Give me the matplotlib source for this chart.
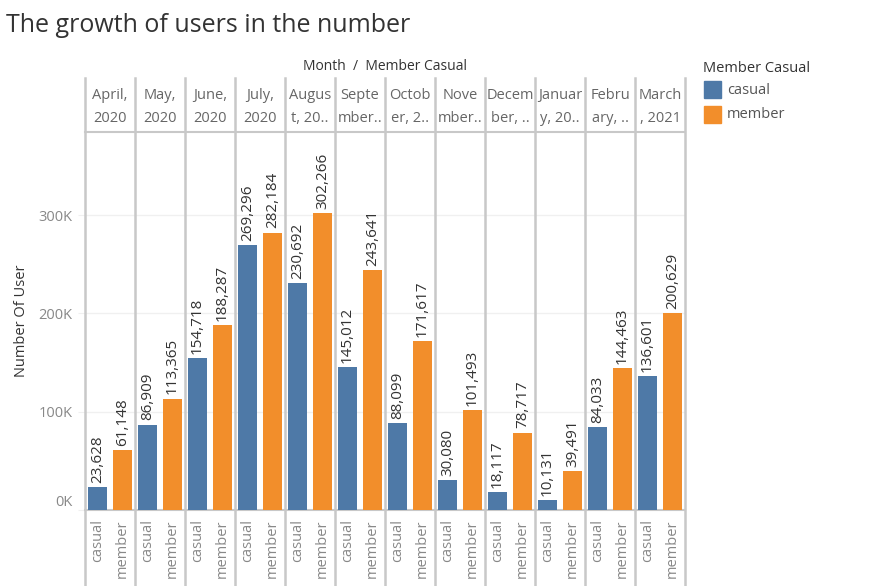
import matplotlib
matplotlib.use("Agg")
import matplotlib.pyplot as plt
import matplotlib.transforms as mtransforms
from matplotlib.lines import Line2D
from matplotlib.patches import Rectangle
import numpy as np

months = ["April,\n2020", "May,\n2020", "June,\n2020", "July,\n2020",
          "Augus\nt, 20..", "Septe\nmber..", "Octob\ner, 2..", "Nove\nmber..",
          "Decem\nber, ..", "Januar\ny, 20..", "Febru\nary, ..", "March\n, 2021"]
casual = [23628, 86909, 154718, 269296, 230692, 145012,
          88099, 30080, 18117, 10131, 84033, 136601]
member = [61148, 113365, 188287, 282184, 302266, 243641,
          171617, 101493, 78717, 39491, 144463, 200629]
groups = ["casual", "member"]
colors = {"casual": "#4e79a7", "member": "#f28e2b"}
yticks = [0, 100000, 200000, 300000]
ytick_labels = ["0K", "100K", "200K", "300K"]

plt.rcParams["font.family"] = ["Open Sans", "DejaVu Sans"]

W, H = 875, 586
fig = plt.figure(figsize=(W / 100, H / 100), dpi=100)


def fx(px):
    return px / W


def fy(py):
    return 1 - py / H


left, right, top, base = 85, 685, 132, 510
ax = fig.add_axes([fx(left), fy(base), fx(right - left), (base - top) / H])

n = len(months)
xc = np.arange(n) * 2
ax.bar(xc, casual, width=0.78, color=colors["casual"], zorder=3)
ax.bar(xc + 1, member, width=0.78, color=colors["member"], zorder=3)

# value labels above each bar
for i in range(n):
    for j, v in enumerate((casual[i], member[i])):
        ax.annotate(f"{v:,}", (xc[i] + j, v), xytext=(0, 3),
                    textcoords="offset points", rotation=90,
                    ha="center", va="bottom", fontsize=11, color="#333333")

ax.set_xlim(-0.5, 2 * n - 0.5)
ax.set_ylim(0, 384500)
ax.set_yticks(yticks)
ax.set_yticklabels(ytick_labels)
ax.tick_params(axis="y", length=5, color="#f0f0f0", labelsize=10.5,
               labelcolor="#888888", pad=4)
ax.yaxis.get_major_ticks()[0].label1.set_verticalalignment("bottom")
ax.set_xticks([])
ax.grid(axis="y", color="#f0f0f0", linewidth=1, zorder=0)
for s in ("left", "right"):
    ax.spines[s].set_visible(False)
for s in ("bottom", "top"):
    ax.spines[s].set_color("#c8c8c8")
    ax.spines[s].set_linewidth(1.5)
ax.set_ylabel("Number Of User", fontsize=10.5, color="#333333", labelpad=7)

# column dividers through header, plot and bottom labels
blend = mtransforms.blended_transform_factory(ax.transData, fig.transFigure)
for k in range(n + 1):
    x = -0.5 + 2 * k
    fig.add_artist(Line2D([x, x], [fy(78), 0], transform=blend,
                          color="#c8c8c8", linewidth=1.8, clip_on=False))

# header month labels
for i in range(n):
    ax.text(xc[i] + 0.5, fy(107), months[i], transform=blend, ha="center",
            va="center", fontsize=10.5, color="#666666", linespacing=1.7)

# bottom category labels
for i in range(n):
    for j, g in enumerate(groups):
        ax.text(xc[i] + j, fy(519), g, transform=blend, rotation=90,
                ha="center", va="top", fontsize=10.5, color="#888888")

fig.text(fx(385), fy(67), "Month  /  Member Casual", ha="center", va="center",
         fontsize=10, color="#333333")
fig.text(fx(6), fy(25), "The growth of users in the number", ha="left",
         va="center", fontsize=18, color="#333333")

# legend
fig.text(fx(703), fy(68), "Member Casual", ha="left", va="center",
         fontsize=10.5, color="#333333", fontweight="medium")
for j, g in enumerate(groups):
    y0 = 81 + 25 * j
    fig.add_artist(Rectangle((fx(704), fy(y0 + 17)), fx(17), 17 / H,
                             transform=fig.transFigure, color=colors[g]))
    fig.text(fx(727), fy(y0 + 9), g, ha="left", va="center",
             fontsize=10.5, color="#555555")

fig.savefig("out.png", dpi=100)
